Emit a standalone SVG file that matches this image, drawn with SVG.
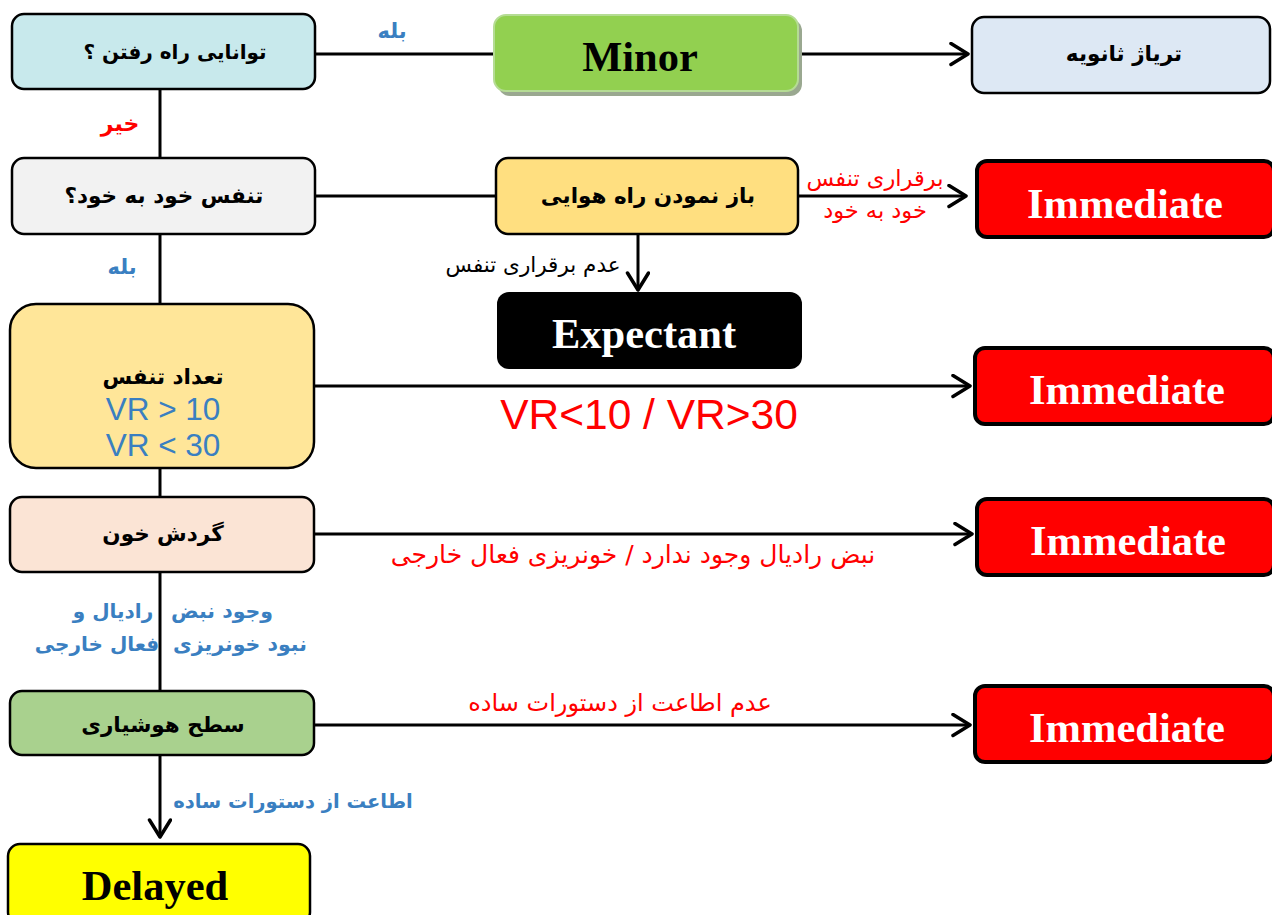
<svg xmlns="http://www.w3.org/2000/svg" width="1272" height="915" viewBox="0 0 1272 915">
<style>
.box{stroke:#000;stroke-width:2.5}
.imm{fill:#ff0000;stroke:#000;stroke-width:4}
.fa{font-family:"DejaVu Sans",sans-serif;direction:rtl;text-anchor:middle}
.nb{font-size:21.5px;font-weight:bold;fill:#000}
.big{font-family:"Liberation Serif",serif;font-weight:bold;font-size:42.5px;text-anchor:middle}
.blue{fill:#3a7fc1}
.red{fill:#ff0000}
.ln{stroke:#000;stroke-width:3;fill:none}
</style>
<defs>
<marker id="arr" markerWidth="24" markerHeight="28" refX="19" refY="12" orient="auto" markerUnits="userSpaceOnUse">
<path d="M2,1.5 L19,12 L2,22.5" fill="none" stroke="#000" stroke-width="3.5" stroke-linecap="round" stroke-linejoin="round"/>
</marker>
</defs>
<g id="connectors">
<path class="ln" d="M315,54 H494"/>
<path class="ln" d="M798,54 H968" marker-end="url(#arr)"/>
<path class="ln" d="M160,89 V158"/>
<path class="ln" d="M315,196 H496"/>
<path class="ln" d="M798,196 H966" marker-end="url(#arr)"/>
<path class="ln" d="M638,234 V290" marker-end="url(#arr)"/>
<path class="ln" d="M160,234 V304"/>
<path class="ln" d="M314,386 H970" marker-end="url(#arr)"/>
<path class="ln" d="M160,468 V497"/>
<path class="ln" d="M314,534 H972" marker-end="url(#arr)"/>
<path class="ln" d="M160,572 V691"/>
<path class="ln" d="M314,725 H970" marker-end="url(#arr)"/>
<path class="ln" d="M160,755 V837" marker-end="url(#arr)"/>
<text class="fa blue" x="392" y="38" font-size="21" font-weight="bold">بله</text>
<text class="fa red" x="120" y="131" font-size="22" font-weight="bold">خیر</text>
<text class="fa red" x="875" y="186" font-size="22.5">برقراری تنفس</text>
<text class="fa red" x="875" y="218" font-size="22.5">خود به خود</text>
<text class="fa" x="533" y="272" font-size="21.5" fill="#000">عدم برقراری تنفس</text>
<text class="fa blue" x="122" y="274" font-size="21" font-weight="bold">بله</text>
<text x="649" y="429" font-family="Liberation Sans,sans-serif" font-size="42.5" fill="#ff0000" text-anchor="middle">VR&lt;10 / VR&gt;30</text>
<text class="fa red" x="633" y="563" font-size="25">نبض رادیال وجود ندارد / خونریزی فعال خارجی</text>
<text class="fa blue" x="222" y="618" font-size="20.5" font-weight="bold">وجود نبض</text>
<text class="fa blue" x="113" y="618" font-size="20" font-weight="bold">رادیال و</text>
<text class="fa blue" x="240" y="651" font-size="20.5" font-weight="bold">نبود خونریزی</text>
<text class="fa blue" x="97" y="651" font-size="20" font-weight="bold">فعال خارجی</text>
<text class="fa red" x="620" y="711" font-size="24">عدم اطاعت از دستورات ساده</text>
<text class="fa blue" x="293" y="808" font-size="19.5" font-weight="bold">اطاعت از دستورات ساده</text>
</g>
<g id="n-walk">
<rect class="box" x="12" y="14" width="303" height="75" rx="12" fill="#c8e9ec"/>
<text class="fa nb" x="175" y="59" style="font-size:20px">توانایی راه رفتن ؟</text>
</g>
<g id="n-minor">
<rect x="498" y="19" width="304" height="77" rx="12" fill="#9aa890"/>
<rect x="494" y="15" width="304" height="76" rx="12" fill="#92d050" stroke="#b5dc94" stroke-width="2"/>
<text class="big" x="640" y="71" fill="#000">Minor</text>
</g>
<g id="n-secondary">
<rect class="box" x="972" y="17" width="298" height="76" rx="12" fill="#dde8f4"/>
<text class="fa nb" x="1124" y="61">تریاژ ثانویه</text>
</g>
<g id="n-breath">
<rect class="box" x="12" y="158" width="303" height="76" rx="12" fill="#f2f2f2"/>
<text class="fa nb" x="164" y="203">تنفس خود به خود؟</text>
</g>
<g id="n-airway">
<rect class="box" x="496" y="158" width="302" height="76" rx="12" fill="#ffdf80"/>
<text class="fa nb" x="648" y="203">باز نمودن راه هوایی</text>
</g>
<g id="n-imm1">
<rect class="imm" x="977" y="161" width="297" height="76" rx="10"/>
<text class="big" x="1125" y="218" fill="#fff">Immediate</text>
</g>
<g id="n-expectant">
<rect x="497" y="292" width="305" height="77" rx="12" fill="#000"/>
<text class="big" x="644" y="348" fill="#fff">Expectant</text>
</g>
<g id="n-rate">
<rect class="box" x="10" y="304" width="304" height="164" rx="26" fill="#ffe699"/>
<text class="fa nb" x="163" y="384">تعداد تنفس</text>
<text x="163" y="420" font-family="Liberation Sans,sans-serif" font-size="31.5" fill="#3a7fc1" text-anchor="middle">VR &gt; 10</text>
<text x="163" y="456" font-family="Liberation Sans,sans-serif" font-size="31.5" fill="#3a7fc1" text-anchor="middle">VR &lt; 30</text>
</g>
<g id="n-imm2">
<rect class="imm" x="975" y="348" width="299" height="76" rx="10"/>
<text class="big" x="1127" y="404" fill="#fff">Immediate</text>
</g>
<g id="n-circ">
<rect class="box" x="10" y="497" width="304" height="75" rx="12" fill="#fbe4d5"/>
<text class="fa nb" x="163" y="541">گردش خون</text>
</g>
<g id="n-imm3">
<rect class="imm" x="977" y="499" width="297" height="76" rx="10"/>
<text class="big" x="1128" y="555" fill="#fff">Immediate</text>
</g>
<g id="n-loc">
<rect class="box" x="10" y="691" width="304" height="64" rx="12" fill="#a9d18e"/>
<text class="fa nb" x="163" y="732">سطح هوشیاری</text>
</g>
<g id="n-imm4">
<rect class="imm" x="975" y="686" width="299" height="76" rx="10"/>
<text class="big" x="1127" y="742" fill="#fff">Immediate</text>
</g>
<g id="n-delayed">
<rect class="box" x="8" y="844" width="302" height="80" rx="12" fill="#ffff00"/>
<text class="big" x="155" y="900" fill="#000">Delayed</text>
</g>
</svg>
